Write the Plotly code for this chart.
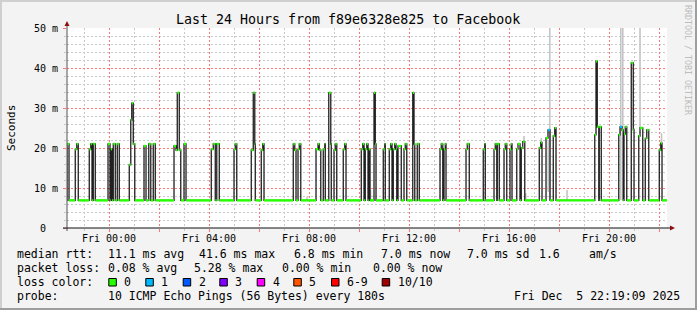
import plotly.graph_objects as go
import pandas as pd

# ---------------- data (hours relative to Fri 00:00) ----------------
chart_start = "2025-12-04 22:19:09"
chart_end = "2025-12-05 22:19:09"
ref_day = "2025-12-05 00:00:00"

baseline_ms = 6.9

seg_start_h = [-1.68, -1.35, -1.29, -0.79, -0.73, -0.63, -0.04, 0.07, 0.17, 0.33,
               0.81, 0.87, 0.91, 0.97, 1.40, 1.59, 1.77, 2.60, 2.68, 2.73,
               2.81, 3.00, 4.09, 4.17, 4.31, 5.00, 5.05, 5.69, 5.77, 5.83,
               6.09, 6.15, 7.37, 7.43, 7.56, 7.61, 8.28, 8.36, 8.41, 8.57,
               8.63, 8.79, 8.87, 9.00, 9.05, 9.37, 9.43, 10.09, 10.15, 10.25,
               10.31, 10.39, 10.60, 10.65, 10.97, 11.03, 11.21, 11.27, 11.37, 11.43,
               11.48, 11.56, 11.80, 11.85, 12.15, 12.20, 12.33, 13.24, 13.29, 13.40,
               13.45, 14.28, 14.33, 14.97, 15.03, 15.40, 15.45, 15.53, 15.80, 15.85,
               16.04, 16.09, 16.31, 16.36, 16.49, 16.55, 17.21, 17.27, 17.48, 17.56,
               17.77, 17.83, 19.43, 19.48, 19.53, 19.61, 20.39, 20.44, 20.52, 20.60,
               20.65, 20.89, 20.97, 21.19, 21.24, 21.45, 21.51, 22.01, 22.07]
seg_end_h = [-1.60, -1.29, -1.23, -0.73, -0.68, -0.55, 0.04, 0.12, 0.25, 0.41,
             0.87, 0.91, 0.97, 1.03, 1.48, 1.67, 1.85, 2.68, 2.73, 2.81,
             2.87, 3.08, 4.17, 4.25, 4.41, 5.05, 5.11, 5.77, 5.83, 5.85,
             6.15, 6.20, 7.43, 7.48, 7.61, 7.67, 8.36, 8.41, 8.47, 8.63,
             8.65, 8.87, 8.89, 9.05, 9.11, 9.43, 9.48, 10.15, 10.20, 10.31,
             10.36, 10.44, 10.65, 10.68, 11.03, 11.05, 11.27, 11.32, 11.43, 11.48,
             11.51, 11.69, 11.85, 11.91, 12.20, 12.23, 12.41, 13.29, 13.35, 13.45,
             13.48, 14.33, 14.41, 15.03, 15.05, 15.45, 15.51, 15.61, 15.85, 15.91,
             16.09, 16.12, 16.36, 16.44, 16.55, 16.63, 17.27, 17.32, 17.56, 17.64,
             17.83, 17.88, 19.48, 19.53, 19.59, 19.69, 20.44, 20.52, 20.57, 20.65,
             20.71, 20.97, 21.00, 21.24, 21.35, 21.51, 21.59, 22.07, 22.12]
seg_ms = [21.0, 19.7, 21.0, 19.7, 21.0, 21.0, 21.0, 19.7, 21.0, 21.0,
          15.8, 27.0, 31.2, 21.0, 20.5, 21.0, 21.0, 20.5, 19.5, 33.8,
          19.5, 21.0, 19.7, 21.0, 21.0, 19.7, 21.0, 19.5, 33.8, 21.0,
          19.5, 21.0, 21.0, 19.5, 19.7, 21.0, 19.7, 21.0, 19.5, 19.7,
          21.0, 33.8, 21.0, 19.5, 21.0, 19.7, 21.0, 19.7, 21.0, 19.7,
          21.0, 19.7, 33.8, 21.0, 19.7, 21.0, 19.7, 21.0, 19.7, 21.0,
          19.7, 20.5, 19.7, 21.0, 33.8, 21.0, 21.0, 19.7, 21.0, 19.7,
          21.0, 19.7, 21.0, 19.7, 21.0, 19.7, 21.0, 21.0, 19.7, 21.0,
          19.7, 21.0, 19.7, 21.0, 20.0, 21.6, 20.0, 21.4, 22.5, 24.5,
          23.0, 25.0, 23.3, 41.7, 25.3, 25.3, 23.3, 25.3, 24.5, 23.5,
          25.3, 41.3, 24.5, 23.0, 25.0, 22.4, 24.5, 19.5, 21.2]
seg_loss = [0] * 89 + [1] + [0] * 7 + [1] + [0] * 11

smoke_h = [7.92, 10.46, 16.60, 16.67, 17.29, 17.57, 17.63, 18.32, 20.47, 20.55, 21.24, 22.10]
smoke_lo = [7.0, 7.0, 21.5, 7.0, 21.0, 9.0, 7.0, 7.0, 7.0, 7.0, 25.0, 21.0]
smoke_hi = [7.8, 9.5, 23.0, 8.7, 22.5, 22.0, 50.0, 9.5, 50.0, 50.0, 50.0, 23.7]

loss_labels = ["0", "1", "2", "3", "4", "5", "6-9", "10/10"]
loss_colors = ["#26ff00", "#00b8ff", "#0059ff", "#7e00ff", "#ff00ff", "#ff5500", "#ff0000", "#a10000"]

title = "Last 24 Hours from f89e6328e825 to Facebook"
rtt_items = ["median rtt:", "11.1 ms avg", "41.6 ms max", "6.8 ms min", "7.0 ms now", "7.0 ms sd", "1.6", "am/s"]
loss_items = ["packet loss:", "0.08 % avg", "5.28 % max", "0.00 % min", "0.00 % now"]
probe_items = ["probe:", "10 ICMP Echo Pings (56 Bytes) every 180s", "Fri Dec\u00a0\u00a05 22:19:09 2025"]
y_tickvals = [0, 10, 20, 30, 40, 50]
y_ticktext = ["0\u00a0\u00a0", "10 m", "20 m", "30 m", "40 m", "50 m"]

# ---------------- build step series ----------------
T0 = pd.Timestamp(ref_day)
TS = pd.Timestamp(chart_start)
TE = pd.Timestamp(chart_end)


def t(h):
    return T0 + pd.Timedelta(hours=h)


pts = [(TS, baseline_ms, 0)]
cur_end = None
for s, e, v, l in zip(seg_start_h, seg_end_h, seg_ms, seg_loss):
    if cur_end is not None and s > cur_end + 1e-9:
        pts.append((t(cur_end), baseline_ms, 0))
    pts.append((t(s), v, l))
    cur_end = e
pts.append((t(cur_end), baseline_ms, 0))
pts.append((TE, baseline_ms, 0))

step_x = [p[0] for p in pts]
step_y = [p[1] for p in pts]

band_x = {0: [], 1: []}
band_y = {0: [], 1: []}
for i in range(len(pts) - 1):
    lc = pts[i][2]
    band_x[lc] += [pts[i][0], pts[i + 1][0], None]
    band_y[lc] += [pts[i][1], pts[i][1], None]

sm_x, sm_y = [], []
for h, lo, hi in zip(smoke_h, smoke_lo, smoke_hi):
    sm_x += [t(h), t(h), None]
    sm_y += [lo, hi, None]

FONT = "DejaVu Sans Mono"
fig = go.Figure()
fig.add_trace(go.Scatter(x=sm_x, y=sm_y, mode="lines", line=dict(color="#c4c4c4", width=1.6),
                         hoverinfo="skip", showlegend=False))
fig.add_trace(go.Scatter(x=step_x, y=step_y, mode="lines",
                         line=dict(color="#202020", width=1.3, shape="hv"), showlegend=False))
for lc in (0, 1):
    fig.add_trace(go.Scatter(x=band_x[lc], y=band_y[lc], mode="lines",
                             line=dict(color=loss_colors[lc], width=2.4), showlegend=False))

# ---------------- layout helpers ----------------
L, R, TOP, B = 67, 30, 28, 82
W, H = 697, 310
PW, PH = W - L - R, H - TOP - B


def px(x):
    return (x - L) / PW


def py(y):
    return (H - B - y) / PH


shapes = []
# frame
shapes.append(dict(type="rect", xref="paper", yref="paper", x0=px(0), x1=px(697), y0=py(0), y1=py(2),
                   fillcolor="#cfcfcf", line_width=0))
shapes.append(dict(type="rect", xref="paper", yref="paper", x0=px(0), x1=px(2), y0=py(0), y1=py(310),
                   fillcolor="#cfcfcf", line_width=0))
shapes.append(dict(type="rect", xref="paper", yref="paper", x0=px(695), x1=px(697), y0=py(0), y1=py(310),
                   fillcolor="#9e9e9e", line_width=0))
shapes.append(dict(type="rect", xref="paper", yref="paper", x0=px(0), x1=px(697), y0=py(308), y1=py(310),
                   fillcolor="#9e9e9e", line_width=0))
# axes
shapes.append(dict(type="line", xref="paper", yref="paper", x0=px(67), x1=px(67), y0=py(231), y1=py(25),
                   line=dict(color="#555555", width=1)))
shapes.append(dict(type="line", xref="paper", yref="paper", x0=px(63), x1=px(671), y0=py(228), y1=py(228),
                   line=dict(color="#101010", width=1)))
shapes.append(dict(type="path", xref="paper", yref="paper",
                   path=f"M {px(64.5)},{py(26)} L {px(69.5)},{py(26)} L {px(67)},{py(21)} Z",
                   fillcolor="#8b1010", line_width=0))
shapes.append(dict(type="path", xref="paper", yref="paper",
                   path=f"M {px(670)},{py(225.5)} L {px(670)},{py(230.5)} L {px(675)},{py(228)} Z",
                   fillcolor="#8b1010", line_width=0))

annotations = []


def txt(x, y, s, size=11.5, xanchor="left", color="#000000", angle=0):
    annotations.append(dict(x=px(x), y=py(y), xref="paper", yref="paper", text=s, showarrow=False,
                            xanchor=xanchor, yanchor="middle", textangle=angle,
                            font=dict(family=FONT, size=size, color=color), borderpad=0))


txt(348, 19, title, size=13.3, xanchor="center")
txt(11, 128, "Seconds", size=11, xanchor="center", angle=-90)
txt(688, 60, "RRDTOOL / TOBI OETIKER", size=8.3, xanchor="center", color="#bdbdbd", angle=90)

rtt_x = [16, 107.3, 198, 293, 380, 466, 538, 588]
for x, s in zip(rtt_x, rtt_items):
    txt(x, 254, s)
loss_x = [16, 107.3, 193.3, 281, 372]
for x, s in zip(loss_x, loss_items):
    txt(x, 268, s)
txt(16, 282, "loss color:")
box_x = [108.3, 145.3, 182.7, 219.3, 256.7, 293.3, 331, 381.7]
for bx, lab, col in zip(box_x, loss_labels, loss_colors):
    shapes.append(dict(type="rect", xref="paper", yref="paper", x0=px(bx + 0.5), x1=px(bx + 8), y0=py(278.5),
                       y1=py(286), fillcolor=col, line=dict(color="#000000", width=1)))
    txt(bx + 15, 282, lab)
probe_x = [16, 107.3, 513.3]
for x, s in zip(probe_x, probe_items):
    txt(x, 296, s)

red_grid = "#ff7878"
grey_grid = "#c8c8c8"
DASH = "2px,2px"

# minor grid positions that do not coincide with major ones
x_minor = [T0 + pd.Timedelta(hours=h) for h in range(-1, 23, 2)]
y_minor = [v for v in range(2, 50, 2) if v % 10]

fig.update_layout(
    width=W, height=H, margin=dict(l=L, r=R, t=TOP, b=B, pad=0),
    paper_bgcolor="#f3f3f3", plot_bgcolor="#ffffff",
    showlegend=False, shapes=shapes, annotations=annotations,
    xaxis=dict(type="date", range=[TS, TE], tick0=T0, dtick=2 * 3600000, ticklabelstep=2,
               tickformat="%a %H:%M", showgrid=True, gridcolor=red_grid, griddash=DASH, gridwidth=1,
               ticks="outside", ticklen=3, tickcolor=red_grid, zeroline=False, showline=False,
               tickfont=dict(family=FONT, size=10, color="#000000"), ticklabelstandoff=-2,
               minor=dict(tickmode="array", tickvals=x_minor, showgrid=True, gridcolor=grey_grid,
                          griddash=DASH, ticks="outside", ticklen=2, tickcolor=grey_grid)),
    yaxis=dict(range=[0, 50], tickmode="array", tickvals=y_tickvals, ticktext=y_ticktext,
               showgrid=True, gridcolor=red_grid, griddash=DASH, gridwidth=1,
               ticks="outside", ticklen=3, tickcolor=red_grid, zeroline=False, showline=False,
               tickfont=dict(family=FONT, size=10, color="#000000"), ticklabelstandoff=3,
               minor=dict(tickmode="array", tickvals=y_minor, showgrid=True, gridcolor=grey_grid,
                          griddash=DASH, ticks="outside", ticklen=2, tickcolor=grey_grid)),
)

fig.write_html("out.html")
